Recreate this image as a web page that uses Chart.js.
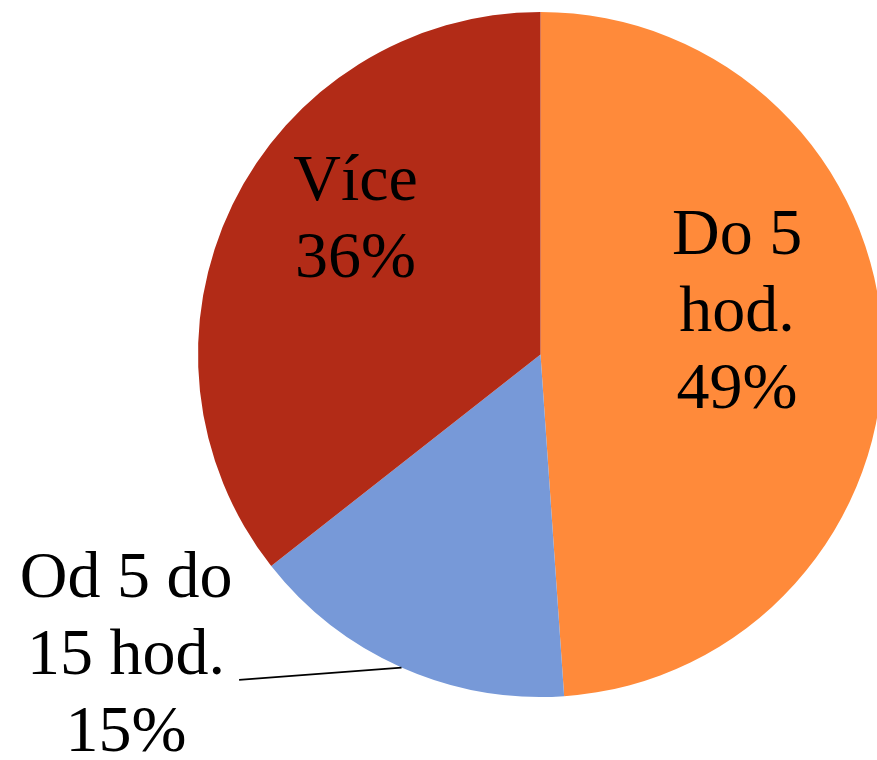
<!DOCTYPE html>
<html>
<head>
<meta charset="utf-8">
<script src="https://cdn.jsdelivr.net/npm/chart.js@4"></script>
<style>
  html, body { margin: 0; padding: 0; background: #fff; overflow: hidden; }
  #obal { width: 890px; height: 760px; }
</style>
</head>
<body>
<div id="obal"><canvas id="graf"></canvas></div>
<script>
// data z obrázku (úhly výsečí odečtené, popisky zaokrouhlené)
const kategorie = ['Do 5 hod.', 'Od 5 do 15 hod.', 'Více'];
const podily = [48.9, 15.5, 35.6];
const barvy = ['#FF8A3A', '#7799D8', '#B22B17'];
// řádky popisků
const popisky = [
    ['Do 5', 'hod.', '49%'],
    ['Od 5 do', '15 hod.', '15%'],
    ['Více', '36%']
];

// umístění popisků jako násobek poloměru od středu
const posunPopisku = [
    { dx: 0.574, dy: -0.118, venku: false },
    { dx: -1.21, dy: 0.883, venku: true },
    { dx: -0.540, dy: -0.390, venku: false }
];

const pluginPopisky = {
    id: 'popisky',
    afterDatasetsDraw(chart) {
        const ctx = chart.ctx;
        const oblouky = chart.getDatasetMeta(0).data;
        ctx.save();
        ctx.font = '66px "Liberation Serif", "Times New Roman", serif';
        ctx.fillStyle = '#000';
        ctx.textAlign = 'center';
        ctx.textBaseline = 'middle';
        const radek = 77;
        oblouky.forEach((arc, i) => {
            const r = arc.outerRadius;
            const p = posunPopisku[i];
            const cx = arc.x + p.dx * r;
            const cy = arc.y + p.dy * r;
            const radky = popisky[i];
            const y0 = cy - (radky.length - 1) * radek / 2;
            radky.forEach((t, j) => ctx.fillText(t, cx, y0 + j * radek));
            if (p.venku) {
                // vodicí čára ke středu oblouku
                const stred = (arc.startAngle + arc.endAngle) / 2;
                ctx.beginPath();
                ctx.moveTo(arc.x - 0.880 * r, arc.y + 0.950 * r);
                ctx.lineTo(arc.x + Math.cos(stred) * r, arc.y + Math.sin(stred) * r);
                ctx.lineWidth = 1.8;
                ctx.strokeStyle = '#000';
                ctx.stroke();
            }
        });
        ctx.restore();
    }
};

new Chart(document.getElementById('graf'), {
    type: 'pie',
    data: {
        labels: kategorie,
        datasets: [{
            data: podily,
            backgroundColor: barvy,
            borderWidth: 0
        }]
    },
    options: {
        responsive: true,
        maintainAspectRatio: false,
        animation: false,
        layout: { padding: { left: 198, right: 7, top: 12, bottom: 63 } },
        plugins: {
            legend: { display: false },
            tooltip: { enabled: false }
        }
    },
    plugins: [pluginPopisky]
});
</script>
</body>
</html>
